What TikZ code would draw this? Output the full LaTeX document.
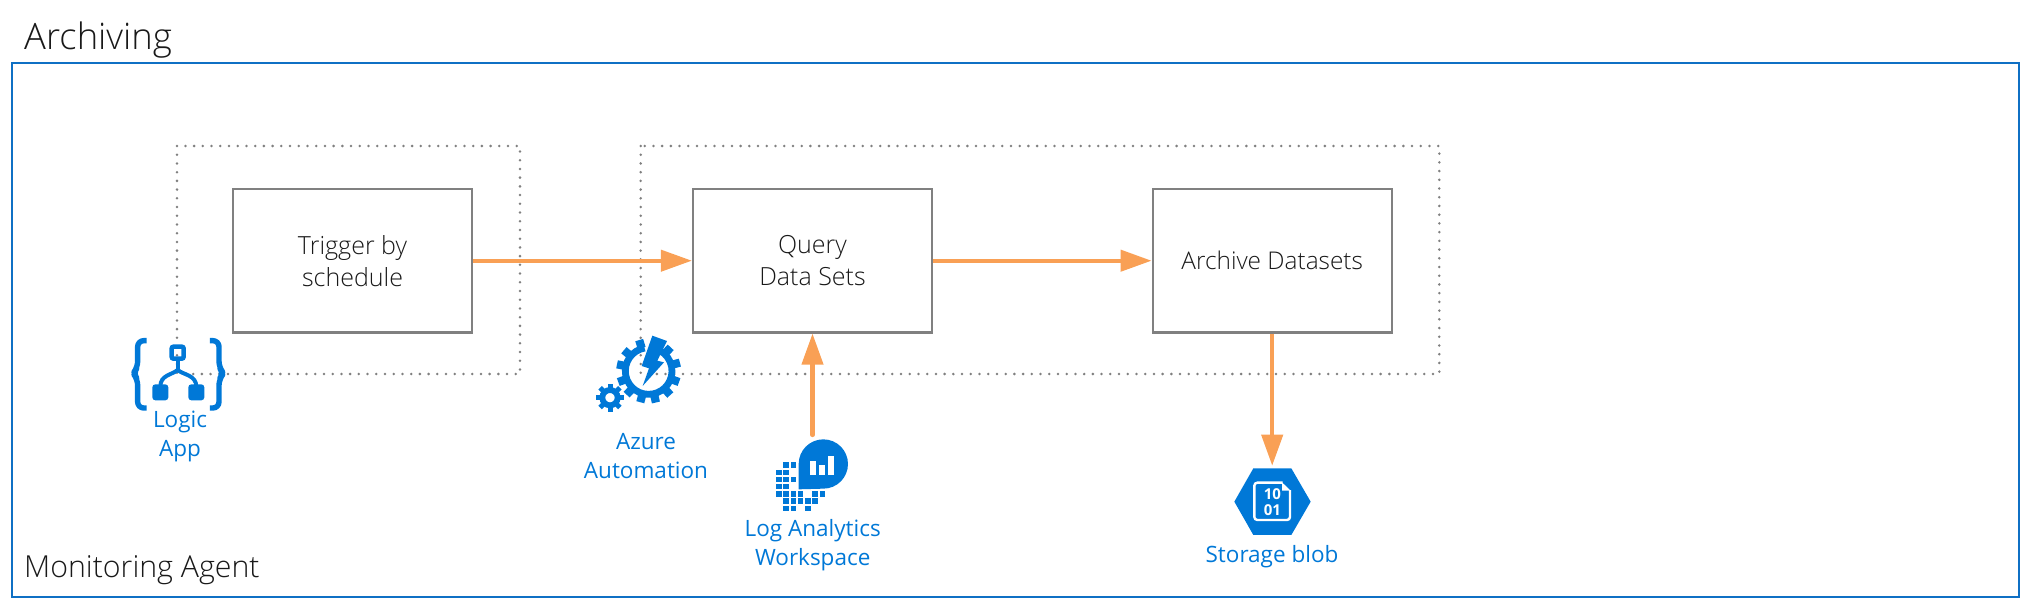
\documentclass[tikz,border=0pt]{standalone}
\usepackage{fontspec}
\setmainfont{Open Sans}
\newfontfamily\lightf{Open Sans Light}
\usetikzlibrary{arrows.meta}
\definecolor{azb}{HTML}{0078D7}
\definecolor{frameb}{HTML}{0F70C4}
\definecolor{flowc}{HTML}{F9A055}
\definecolor{boxg}{HTML}{808080}
\tikzset{
  x=1pt,y=-1pt,
  stepbox/.style={draw=boxg,line width=2.2pt,minimum width=239pt,minimum height=143.5pt,align=center,inner sep=0pt,font=\lightf\fontsize{25}{32}\selectfont,text=black!90},
  dotbox/.style={draw=boxg,line width=2.8pt,line cap=round,dash pattern=on 0pt off 8.72pt},
  flow/.style={draw=flowc,line width=4.2pt,-{Triangle[length=31pt,width=21pt,fill=flowc]}},
  outer/.style={draw=frameb,line width=2.2pt},
  heading/.style={anchor=base west,inner sep=0pt,text=black!90},
  iconlabel/.style={align=center,inner sep=0pt,text=azb,font=\fontsize{22.5}{29}\selectfont},
  icongrid/.style={x=0.3333pt,y=-0.3333pt,azb},
}
\begin{document}
\begin{tikzpicture}
\useasboundingbox (0,0) rectangle (2024,602);
\node[outer,minimum width=2006.7pt,minimum height=534pt,inner sep=0pt] (frame) at (1015.35,330) {};
\node[heading,font=\lightf\fontsize{36.4}{40}\selectfont] (title) at (24,50) {Archiving};
\node[heading,font=\lightf\fontsize{30.3}{36}\selectfont] (agent) at (24,577) {Monitoring Agent};
% dotted groups
\draw[dotbox] (177,146) rectangle (520,374);
\draw[dotbox] (640.7,146) rectangle (1439.3,374);
% steps
\node[stepbox] (trigger) at (352.5,260.7) {Trigger by\\schedule};
\node[stepbox] (query) at (812.5,260.7) {Query\\Data Sets};
\node[stepbox,font=\lightf\fontsize{24.4}{32}\selectfont] (archive) at (1272.2,260.7) {Archive Datasets};
% free ends at the icons
\coordinate (lawtop) at (812.5,435);
\coordinate (blobtop) at (1272.2,465.7);
\draw[flow] (trigger.east) -- (query.west);
\draw[flow] (query.east) -- (archive.west);
\draw[flow,line cap=round] (lawtop) -- (query.south);
\draw[flow] (archive.south) -- (blobtop);
% Logic App icon
\begin{scope}[shift={(100,320)},icongrid]
  \draw[line width=5.4pt,rounded corners=6pt,line join=round] (140,62) -- (113,62) -- (113,142) -- (99,160) -- (113,178) -- (113,264) -- (140,264);
  \draw[line width=5.4pt,rounded corners=6pt,line join=round] (330,62) -- (357,62) -- (357,142) -- (371,160) -- (357,178) -- (357,264) -- (330,264);
  \draw[line width=4.6pt,rounded corners=2pt] (215,80) rectangle (251,116);
  \draw[line width=4pt] (233,120) -- (233,146);
  \draw[line width=4pt] (181,200) .. controls (181,165) and (215,165) .. (233,150) .. controls (251,165) and (289,165) .. (289,200);
  \fill[rounded corners=3pt] (157,193) rectangle (205,241);
  \fill[rounded corners=3pt] (265,193) rectangle (313,241);
\end{scope}
\node[iconlabel] (logiclabel) at (180,436) {Logic\\App};
% Azure Automation icon
\begin{scope}[shift={(570,320)},icongrid]
  \begin{scope}[shift={(236,153)},y=0.3333pt]
    \draw[line width=6.8pt] (100:70) arc[start angle=100,end angle=420,radius=70];
    \foreach \a in {107,140,168,200,227,255,283,312,340,375,407}
      \draw[line width=8.2pt] (\a:72) -- (\a:97);
  \end{scope}
  \begin{scope}[shift={(120,233)},y=0.3333pt]
    \draw[line width=5.8pt] (0,0) circle[radius=23];
    \foreach \a in {0,45,...,315}
      \draw[line width=5pt] (\a:25) -- (\a:42);
  \end{scope}
  \fill (247,47) -- (291,63) -- (262,122) -- (282,127) -- (218,198) -- (237,145) -- (215,138) -- cycle;
\end{scope}
\node[iconlabel] (autolabel) at (646,456) {Azure\\Automation};
% Log Analytics icon
\begin{scope}[shift={(730,430)},icongrid]
  \foreach \x/\y in {168/105,190/105,147/127,168/127,147/148,168/148,190/148,147/170,168/170,147/192,168/192,190/192,212/192,255/192,277/192,168/213,190/213,212/213,234/213,255/213,190/235,168/235,234/235}
    \fill (\x-8,\y-8) rectangle +(16,16);
  \fill (206,102) -- (206,178) -- (280,176) arc[start angle=90,end angle=-180,radius=74] -- cycle;
  \fill[white] (241,92) rectangle (258,134);
  \fill[white] (268,106) rectangle (285,134);
  \fill[white] (295,78) rectangle (312,134);
\end{scope}
\node[iconlabel] (lawlabel) at (812.7,545) {Log Analytics\\Workspace};
% Storage blob icon
\begin{scope}[shift={(1190,450)},icongrid]
  \fill (133,155) -- (190,55) -- (304,55) -- (362,155) -- (304,255) -- (190,255) -- cycle;
  \draw[white,line width=2.4pt,rounded corners=3pt] (278,98) -- (193,98) -- (193,210) -- (300,210) -- (300,120);
  \fill[white] (276,97) -- (302,122) -- (276,122) -- cycle;
  \node[text=white,inner sep=0pt,font=\bfseries\fontsize{15}{16}\selectfont] (bits1) at (247,132) {10};
  \node[text=white,inner sep=0pt,font=\bfseries\fontsize{15}{16}\selectfont] (bits2) at (247,180) {01};
\end{scope}
\node[iconlabel] (bloblabel) at (1272,556.5) {Storage blob};
\end{tikzpicture}
\end{document}
